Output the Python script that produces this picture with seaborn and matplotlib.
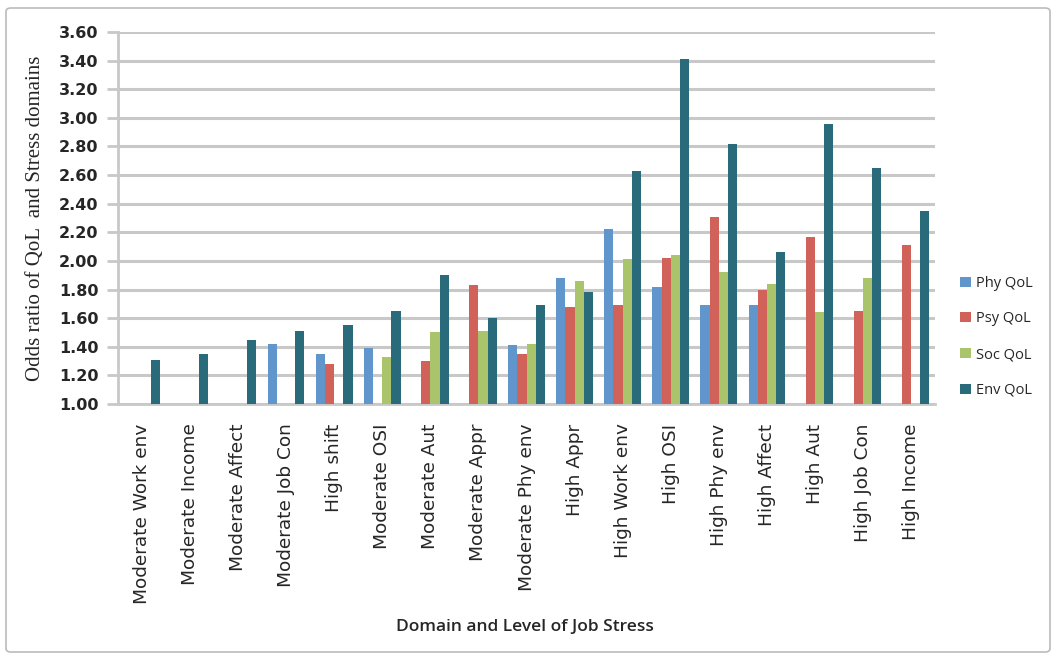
import numpy as np
import pandas as pd
import matplotlib
matplotlib.use("Agg")
import matplotlib.pyplot as plt
import seaborn as sns
from matplotlib.patches import FancyBboxPatch

categories = ["Moderate Work env", "Moderate Income", "Moderate Affect", "Moderate Job Con",
              "High shift", "Moderate OSI", "Moderate Aut", "Moderate Appr", "Moderate Phy env",
              "High Appr", "High Work env", "High OSI", "High Phy env", "High Affect",
              "High Aut", "High Job Con", "High Income"]
nan = np.nan
phy = [nan, nan, nan, 1.42, 1.35, 1.39, nan, nan, 1.41, 1.88, 2.22, 1.82, 1.69, 1.69, nan, nan, nan]
psy = [nan, nan, nan, nan, 1.28, nan, 1.30, 1.83, 1.35, 1.68, 1.69, 2.02, 2.31, 1.80, 2.17, 1.65, 2.11]
soc = [nan, nan, nan, nan, nan, 1.33, 1.50, 1.51, 1.42, 1.86, 2.01, 2.04, 1.92, 1.84, 1.64, 1.88, nan]
env = [1.31, 1.35, 1.45, 1.51, 1.55, 1.65, 1.90, 1.60, 1.69, 1.78, 2.63, 3.41, 2.82, 2.06, 2.96, 2.65, 2.35]
series_names = ["Phy QoL", "Psy QoL", "Soc QoL", "Env QoL"]
colors = ["#6096CC", "#D0625A", "#A9C46B", "#296B7B"]

rows = []
for name, vals in zip(series_names, [phy, psy, soc, env]):
    for c, v in zip(categories, vals):
        rows.append({"cat": c, "series": name, "val": v})
df = pd.DataFrame(rows)

sns.set_style("white")
fig = plt.figure(figsize=(10.57, 6.58), dpi=100)
ax = fig.add_axes([118/1057, 1-404/658, (935-118)/1057, (404-32)/658])

sns.barplot(data=df.dropna(), x="cat", y="val", hue="series", order=categories,
            hue_order=series_names, palette=colors, saturation=1, width=0.76,
            ax=ax, errorbar=None, zorder=3, linewidth=0)

ax.set_ylim(1.0, 3.6)
ax.set_xlim(-0.5, len(categories) - 0.5)
yt = np.arange(1.0, 3.61, 0.2)
ax.set_yticks(yt)
ax.set_yticklabels([f"{v:.2f}" for v in yt], fontsize=11.5, fontweight="bold", family="DejaVu Sans")
ax.yaxis.grid(True, color="#C8C8C8", linewidth=2.2, zorder=0)
ax.set_axisbelow(True)
ax.tick_params(axis="y", length=8, width=2, color="#C8C8C8", pad=6, left=True)
ax.tick_params(axis="x", length=0, pad=14)
ax.set_xticks(range(len(categories)))
ax.set_xticklabels(categories, rotation=90, fontsize=13.3, family="DejaVu Sans")
for s in ["top", "right"]:
    ax.spines[s].set_visible(False)
for s in ["left", "bottom"]:
    ax.spines[s].set_color("#C8C8C8")
    ax.spines[s].set_linewidth(2)

ax.set_ylabel("Odds ratio of QoL  and Stress domains", family="Liberation Serif", fontsize=15, labelpad=10)
ax.set_xlabel("")
fig.text(525/1057, 1-627/658, "Domain and Level of Job Stress", ha="center", va="center",
         fontsize=12.5, family="Open Sans", fontweight="semibold")

handles, labels = ax.get_legend_handles_labels()
leg = ax.legend(handles, labels, loc="upper left", bbox_to_anchor=(1.015, 0.38),
                frameon=False, handlelength=0.7, handleheight=0.7,
                labelspacing=1.42, handletextpad=0.4, prop={"family": "Open Sans", "size": 10.5})

border = FancyBboxPatch((6/1057, 6/658), 1044/1057, 644/658, boxstyle="round,pad=0,rounding_size=0.005",
                        transform=fig.transFigure, fill=False, edgecolor="#BBBBBB", linewidth=1.2)
fig.patches.append(border)

fig.savefig("out.png", dpi=100)
